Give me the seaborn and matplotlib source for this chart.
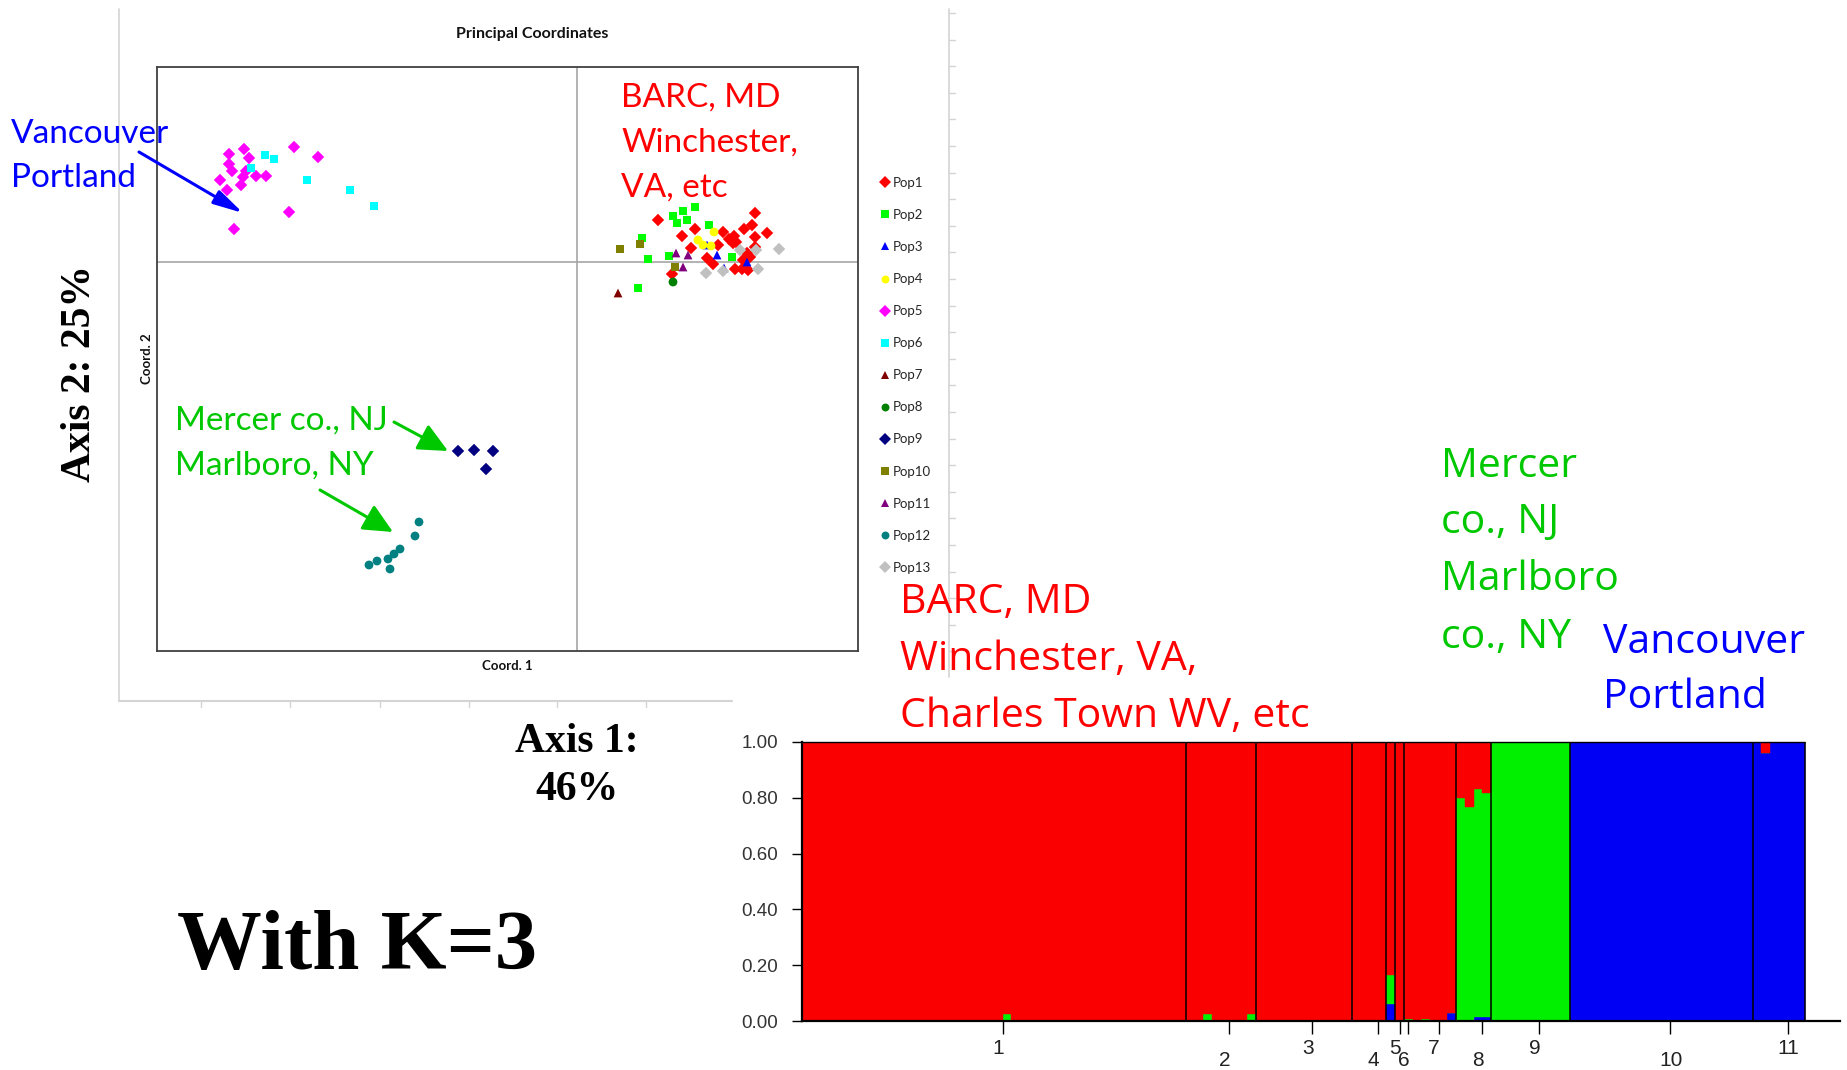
import numpy as np
import pandas as pd
import matplotlib
matplotlib.use("Agg")
import matplotlib.pyplot as plt
import seaborn as sns
from matplotlib.transforms import ScaledTranslation, blended_transform_factory

# ---------------- PCoA data (Coord. 1, Coord. 2) ----------------
pop1 = [(0.081, 0.042), (0.178, 0.049), (0.175, 0.037), (0.167, 0.033), (0.190, 0.029),
        (0.118, 0.033), (0.146, 0.030), (0.105, 0.026), (0.157, 0.026), (0.152, 0.023),
        (0.156, 0.019), (0.178, 0.025), (0.178, 0.015), (0.141, 0.017), (0.114, 0.014),
        (0.170, 0.009), (0.173, 0.005), (0.130, 0.004), (0.136, -0.002), (0.158, -0.007),
        (0.165, -0.007), (0.171, -0.008), (0.095, -0.012), (0.159, 0.020), (0.166, 0.002)]
pop2 = [(0.118, 0.055), (0.106, 0.051), (0.096, 0.046), (0.110, 0.042), (0.100, 0.039),
        (0.132, 0.037), (0.065, 0.024), (0.071, 0.003), (0.092, 0.006), (0.155, 0.005),
        (0.061, -0.026)]
pop3 = [(0.140, 0.007), (0.147, -0.006), (0.170, 0.000), (0.130, 0.017)]
pop4 = [(0.137, 0.030), (0.121, 0.022), (0.126, 0.017), (0.134, 0.016)]
pop5 = [(-0.348, 0.108), (-0.333, 0.113), (-0.328, 0.104), (-0.348, 0.098), (-0.345, 0.091),
        (-0.331, 0.091), (-0.334, 0.085), (-0.357, 0.082), (-0.321, 0.086), (-0.311, 0.086),
        (-0.336, 0.077), (-0.350, 0.072), (-0.283, 0.115), (-0.259, 0.105), (-0.288, 0.050),
        (-0.343, 0.033)]
pop6 = [(-0.312, 0.107), (-0.303, 0.103), (-0.326, 0.094), (-0.270, 0.082), (-0.227, 0.072),
        (-0.203, 0.056)]
pop7 = [(0.041, -0.031)]
pop8 = [(0.096, -0.020)]
pop9 = [(-0.119, -0.189), (-0.103, -0.188), (-0.084, -0.189), (-0.091, -0.207)]
pop10 = [(0.043, 0.013), (0.063, 0.018), (0.098, -0.005)]
pop11 = [(0.099, 0.009), (0.111, 0.007), (0.106, -0.005)]
pop12 = [(-0.158, -0.260), (-0.162, -0.274), (-0.177, -0.287), (-0.183, -0.292),
         (-0.189, -0.297), (-0.187, -0.307), (-0.200, -0.299), (-0.208, -0.303)]
pop13 = [(0.163, 0.012), (0.179, 0.012), (0.202, 0.013), (0.181, -0.007), (0.129, -0.011),
         (0.146, -0.009)]

pop_names = ["Pop1", "Pop2", "Pop3", "Pop4", "Pop5", "Pop6", "Pop7", "Pop8", "Pop9",
             "Pop10", "Pop11", "Pop12", "Pop13"]
pop_points = [pop1, pop2, pop3, pop4, pop5, pop6, pop7, pop8, pop9, pop10, pop11, pop12, pop13]
pop_colors = ["#ff0000", "#00ff00", "#0000ff", "#ffff00", "#ff00ff", "#00ffff", "#800000",
              "#008000", "#000080", "#808000", "#800080", "#008080", "#c0c0c0"]
pop_markers = ["D", "s", "^", "o", "D", "s", "^", "o", "D", "s", "^", "o", "D"]

# ---------------- STRUCTURE (K=3) data ----------------
group_labels = ["1", "2", "3", "4", "5", "6", "7", "8", "9", "10", "11"]
group_sizes = [44, 8, 11, 4, 1, 1, 6, 4, 9, 21, 6]
q_blue = ([0.0] * 44 +
          [0.0] * 8 +
          [0.0] * 11 +
          [0.0] * 4 +
          [0.06] +
          [0.0] +
          [0.0, 0.0, 0.0, 0.0, 0.0, 0.03] +
          [0.0, 0.0, 0.015, 0.015] +
          [0.0] * 9 +
          [1.0] * 21 +
          [1.0, 0.96, 1.0, 1.0, 1.0, 1.0])
q_green = ([0.0] * 23 + [0.025] + [0.0] * 20 +
           [0.0, 0.0, 0.025, 0.0, 0.0, 0.0, 0.0, 0.025] +
           [0.0] * 11 +
           [0.0] * 4 +
           [0.106] +
           [0.0] +
           [0.006, 0.0, 0.006, 0.0, 0.0, 0.0] +
           [0.80, 0.766, 0.815, 0.803] +
           [1.0] * 9 +
           [0.0] * 21 +
           [0.0] * 6)
cluster_colors = {"blue": "#0000f5", "green": "#00f000", "red": "#fa0000"}

# ---------------- figure ----------------
sns.set_style("white")
plt.rcParams["font.family"] = ["Lato", "DejaVu Sans"]
W, H = 1847, 1070
fig = plt.figure(figsize=(W / 100, H / 100), dpi=100)
fig.patch.set_facecolor("white")


def fig_rect(x0, y0, x1, y1):
    return [x0 / W, 1 - y1 / H, (x1 - x0) / W, (y1 - y0) / H]


# PCoA panel
ax = fig.add_axes(fig_rect(157, 67, 858, 651))
rows = []
for name, pts in zip(pop_names, pop_points):
    for cx, cy in pts:
        rows.append({"pop": name, "c1": cx, "c2": cy})
df = pd.DataFrame(rows)
ax.axhline(0, color="#a6a6a6", lw=1.2, zorder=0)
ax.axvline(0, color="#a6a6a6", lw=1.2, zorder=0)
sns.scatterplot(data=df, x="c1", y="c2", hue="pop", style="pop", hue_order=pop_names,
                style_order=pop_names, palette=dict(zip(pop_names, pop_colors)),
                markers=dict(zip(pop_names, pop_markers)), s=40, linewidth=0,
                legend="full", ax=ax, zorder=3)
ax.set_xlim(-0.420, 0.281)
ax.set_ylim(-0.389, 0.195)
ax.set_xticks([])
ax.set_yticks([])
ax.set_xlabel("")
ax.set_ylabel("")
for sp in ax.spines.values():
    sp.set_visible(True)
    sp.set_color("#404040")
    sp.set_linewidth(1.3)
sns.move_legend(ax, loc="upper left", bbox_to_anchor=(881 / W, 1 - 177 / H),
                bbox_transform=fig.transFigure, frameon=False, title=None,
                fontsize=9.5, labelspacing=1.52, handletextpad=0.25, handlelength=0.65,
                borderpad=0, borderaxespad=0, markerscale=0.9)

# STRUCTURE panel
ax2 = fig.add_axes(fig_rect(802, 742, 1840, 1021))
n_ind = len(q_blue)
xs = np.arange(n_ind)
qb = np.array(q_blue)
qg = np.array(q_green)
qr = 1.0 - qb - qg
ax2.bar(xs, qb, width=1.0, bottom=0, color=cluster_colors["blue"],
        edgecolor=cluster_colors["blue"], linewidth=0.3)
ax2.bar(xs, qg, width=1.0, bottom=qb, color=cluster_colors["green"],
        edgecolor=cluster_colors["green"], linewidth=0.3)
ax2.bar(xs, qr, width=1.0, bottom=qb + qg, color=cluster_colors["red"],
        edgecolor=cluster_colors["red"], linewidth=0.3)
ends = np.cumsum(group_sizes)
starts = ends - np.array(group_sizes)
ax2.vlines(ends - 0.5, 0, 1, color="black", lw=1.1, zorder=4)
ax2.hlines(1.0, -0.5, n_ind - 0.5, color="black", lw=1.0, zorder=4, clip_on=False)
ax2.set_xlim(-0.5, 118.5)
ax2.set_ylim(0, 1.0)
for side in ["top", "right"]:
    ax2.spines[side].set_visible(False)
for side in ["left", "bottom"]:
    ax2.spines[side].set_color("black")
    ax2.spines[side].set_linewidth(1.6)
ax2.spines["left"].set_zorder(5)
yt = [0.0, 0.2, 0.4, 0.6, 0.8, 1.0]
ax2.set_yticks(yt)
ax2.set_yticklabels([f"{v:.2f}" for v in yt], family="Liberation Sans", fontsize=13.5,
                    color="#333333")
ax2.tick_params(axis="y", length=7.2, width=1.0, pad=10, left=True, color="black")
tick_pos = starts + np.array(group_sizes) / 2 + 0.5
ax2.set_xticks(tick_pos)
ax2.set_xticklabels([])
ax2.tick_params(axis="x", length=9.5, width=1.0, bottom=True, color="black")
trans = blended_transform_factory(ax2.transData, ax2.transAxes) + \
    ScaledTranslation(-10.5 / 100, 0, fig.dpi_scale_trans)
for i, (p, lab) in enumerate(zip(tick_pos, group_labels)):
    ytop = 1039 if i % 2 == 0 else 1051
    ax2.text(p, (1021 - ytop) / 279, lab, transform=trans, ha="left", va="top",
             family="Liberation Sans", fontsize=15, color="#222222", clip_on=False)

# overlay for annotations (pixel coordinates)
ov = fig.add_axes([0, 0, 1, 1], zorder=10)
ov.set_xlim(0, W)
ov.set_ylim(H, 0)
ov.axis("off")
ov.patch.set_alpha(0)

frame_c = "#d4d4d4"
ov.plot([119, 119], [9, 701], color=frame_c, lw=1.2, zorder=1)
ov.plot([119, 732], [701, 701], color=frame_c, lw=1.5, zorder=1)
ov.plot([949, 949], [9, 677], color=frame_c, lw=1.2, zorder=1)
for tx in [201, 290, 380, 469, 557, 646]:
    ov.plot([tx, tx], [701, 707], color=frame_c, lw=1, zorder=1)
for ty in np.arange(13, 677, 26.6):
    ov.plot([949, 955], [ty, ty], color=frame_c, lw=1, zorder=1)

ov.text(532, 34, "Principal Coordinates", ha="center", va="center", fontsize=11.5,
        fontweight="bold", color="#111111")
ov.text(507, 666, "Coord. 1", ha="center", va="center", fontsize=9.5, fontweight="bold",
        color="#111111")
ov.text(147, 359, "Coord. 2", ha="center", va="center", fontsize=9.5, fontweight="bold",
        rotation=90, color="#111111")

blue_c = "#0000ff"
red_c = "#ff0000"
green_c = "#00c800"
tl_size = 24
for txt, yb in [("Vancouver", 143), ("Portland", 187)]:
    ov.text(11, yb, txt, fontsize=tl_size, color=blue_c, ha="left", va="baseline")
for txt, yb in [("BARC, MD", 107), ("Winchester,", 152), ("VA, etc", 197)]:
    ov.text(621, yb, txt, fontsize=tl_size, color=red_c, ha="left", va="baseline")
for txt, yb in [("Mercer co., NJ", 430), ("Marlboro, NY", 475)]:
    ov.text(175, yb, txt, fontsize=tl_size, color=green_c, ha="left", va="baseline")

ov.annotate("", xy=(243, 213), xytext=(139, 152),
            arrowprops=dict(arrowstyle="-|>,head_length=18,head_width=4.5",
                            mutation_scale=1, color=blue_c, lw=2.2,
                            shrinkA=0, shrinkB=0))
for (x0, y0), (x1, y1) in [((394, 422), (448, 451)), ((320, 490), (393, 532))]:
    ov.annotate("", xy=(x1, y1), xytext=(x0, y0),
                arrowprops=dict(arrowstyle="-|>,head_length=18,head_width=8.5",
                                mutation_scale=1, color=green_c, lw=2.2,
                                shrinkA=0, shrinkB=0))

serif = "Liberation Serif"
ov.text(80, 373, "Axis 2: 25%", rotation=90, ha="center", va="center", family=serif,
        fontweight="bold", fontsize=30, color="black")
ov.text(577, 752, "Axis 1:", ha="center", va="baseline", family=serif, fontweight="bold",
        fontsize=30, color="black")
ov.text(577, 800, "46%", ha="center", va="baseline", family=serif, fontweight="bold",
        fontsize=30, color="black")
ov.text(177, 969, "With K=3", ha="left", va="baseline", family=serif, fontweight="bold",
        fontsize=61, color="black")

br = "Open Sans"
br_size = 29.5
for txt, yb in [("BARC, MD", 613), ("Winchester, VA,", 670), ("Charles Town WV, etc", 727)]:
    ov.text(900, yb, txt, family=br, fontsize=br_size, color=red_c, ha="left", va="baseline")
for txt, yb in [("Mercer", 477), ("co., NJ", 533), ("Marlboro", 590), ("co., NY", 648)]:
    ov.text(1441, yb, txt, family=br, fontsize=br_size, color=green_c, ha="left",
            va="baseline")
for txt, yb in [("Vancouver", 653), ("Portland", 708)]:
    ov.text(1603, yb, txt, family=br, fontsize=br_size, color=blue_c, ha="left",
            va="baseline")

fig.savefig("out.png", dpi=100, facecolor="white")
